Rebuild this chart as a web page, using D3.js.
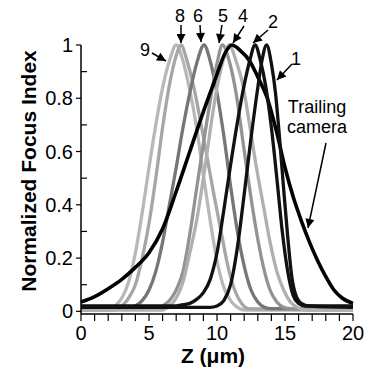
<!DOCTYPE html>
<html>
<head>
<meta charset="utf-8">
<script src="https://cdn.jsdelivr.net/npm/d3@7"></script>
<style>
  body { margin: 0; background: #fff; }
  text { font-family: Arial, "Liberation Sans", sans-serif; }
</style>
</head>
<body>
<script>
var svg_width  = 371;
var svg_height = 374;

// focus curves, [z (um), normalized focus index]
var cam9 = [[0,0.005],[2,0.005],[2.5,0.02],[3,0.05],[3.5,0.11],[4,0.22],[4.5,0.37],[5,0.54],[5.5,0.7],[6,0.84],[6.5,0.94],[7,1.0],[7.5,0.94],[8,0.83],[8.5,0.69],[9,0.51],[9.5,0.34],[10,0.19],[10.5,0.09],[11,0.04],[11.5,0.015],[12,0.005],[20,0.005]];
var cam8 = [[0,0.005],[2.5,0.005],[3,0.02],[3.5,0.05],[4,0.1],[4.5,0.2],[5,0.33],[5.5,0.5],[6,0.69],[6.5,0.85],[7,0.96],[7.35,1.0],[7.8,0.94],[8.3,0.84],[8.8,0.71],[9.3,0.57],[9.8,0.43],[10.3,0.3],[10.8,0.17],[11.3,0.08],[11.8,0.03],[12.3,0.01],[20,0.005]];
var cam6 = [[0,0.01],[3.5,0.01],[4,0.02],[4.5,0.04],[5,0.08],[5.5,0.15],[6,0.26],[6.5,0.4],[7,0.54],[7.5,0.69],[8,0.82],[8.5,0.93],[9.05,1.0],[9.5,0.94],[10,0.82],[10.5,0.66],[11,0.47],[11.5,0.3],[12,0.17],[12.5,0.08],[13,0.035],[13.5,0.015],[14,0.01],[20,0.01]];
var cam5 = [[0,0.01],[5.5,0.01],[6,0.02],[6.5,0.04],[7,0.08],[7.5,0.15],[8,0.29],[8.5,0.46],[9,0.63],[9.5,0.79],[10,0.93],[10.4,1.0],[10.9,0.94],[11.4,0.82],[11.9,0.64],[12.4,0.46],[12.9,0.3],[13.4,0.17],[13.9,0.08],[14.4,0.035],[14.9,0.015],[15.5,0.01],[20,0.01]];
var cam4 = [[0,0.005],[6,0.005],[6.5,0.02],[7,0.05],[7.5,0.11],[8,0.22],[8.5,0.34],[9,0.5],[9.5,0.68],[10,0.84],[10.5,0.95],[10.9,1.0],[11.4,0.94],[11.9,0.85],[12.4,0.7],[12.9,0.54],[13.4,0.4],[13.9,0.26],[14.4,0.15],[14.9,0.08],[15.4,0.035],[15.9,0.015],[16.5,0.005],[20,0.005]];
var trailing = [[0,0.035],[1,0.055],[2,0.085],[3,0.12],[4,0.165],[5,0.22],[6,0.31],[7,0.45],[8,0.6],[9,0.75],[10,0.89],[10.6,0.97],[11.1,1.0],[11.7,0.98],[12.4,0.94],[13,0.88],[13.7,0.8],[14.4,0.67],[15,0.54],[15.6,0.43],[16.2,0.34],[16.8,0.26],[17.4,0.19],[18,0.13],[18.6,0.08],[19.2,0.05],[20,0.03]];
var cam2 = [[0,0.02],[7,0.02],[7.5,0.025],[8,0.03],[8.5,0.045],[9,0.07],[9.5,0.12],[10,0.22],[10.5,0.38],[11,0.55],[11.5,0.71],[12,0.85],[12.4,0.94],[12.8,1.0],[13.2,0.94],[13.6,0.84],[14,0.69],[14.4,0.5],[14.8,0.3],[15.2,0.15],[15.6,0.06],[16,0.03],[16.5,0.02],[20,0.02]];
var cam1 = [[0,0.015],[9.5,0.015],[10,0.02],[10.5,0.04],[11,0.1],[11.5,0.24],[12,0.44],[12.5,0.65],[13,0.84],[13.3,0.94],[13.65,1.0],[14,0.93],[14.3,0.82],[14.6,0.65],[14.9,0.46],[15.2,0.28],[15.5,0.13],[15.8,0.06],[16.2,0.03],[16.8,0.02],[20,0.015]];

var xTicks = [0, 5, 10, 15, 20];
var yTicks = [0, 0.2, 0.4, 0.6, 0.8, 1];

var curves = [
  {data: cam9, color: "#b8b8b8", w: 3.3},
  {data: cam8, color: "#a6a6a6", w: 3.3},
  {data: cam6, color: "#767676", w: 3.3},
  {data: cam5, color: "#939393", w: 3.3},
  {data: cam4, color: "#b0b0b0", w: 3.3},
  {data: trailing, color: "#000", w: 3.6},
  {data: cam2, color: "#111", w: 3.3},
  {data: cam1, color: "#111", w: 3.3}
];

// label text, position, arrow start -> tip
var labels = [
  {t: "9", x: 145, y: 56, a: [152, 53, 166, 61]},
  {t: "8", x: 180, y: 22, a: [181, 25, 181, 43]},
  {t: "6", x: 198, y: 22, a: [200, 25, 201, 42]},
  {t: "5", x: 223, y: 22, a: [222, 25, 219, 43]},
  {t: "4", x: 243, y: 22, a: [244, 26, 233, 43]},
  {t: "2", x: 273, y: 28, a: [268, 30, 253, 43]},
  {t: "1", x: 296, y: 65, a: [292, 64, 277, 80]}
];

var svg = d3.select('body').append('svg')
            .attr('width', svg_width)
            .attr('height', svg_height);

var x = d3.scaleLinear().domain([0, 20]).range([81, 353]);
var y = d3.scaleLinear().domain([-0.01, 1]).range([314, 45]);

var line = d3.line()
             .x(d => x(d[0]))
             .y(d => y(d[1]))
             .curve(d3.curveMonotoneX);

svg.append("g")
   .selectAll("path")
   .data(curves)
   .enter().append("path")
   .attr("d", d => line(d.data))
   .attr("fill", "none")
   .attr("stroke", d => d.color)
   .attr("stroke-width", d => d.w)
   .attr("stroke-linejoin", "round");

// axes
var xAxis = svg.append("g").attr("transform", "translate(0," + y(-0.01) + ")");
xAxis.append("line").attr("x1", x(0)).attr("x2", x(20)).attr("stroke", "#000").attr("stroke-width", 1.5);
xAxis.selectAll(".mt").data(d3.range(0, 21)).enter().append("line")
     .attr("x1", d => x(d)).attr("x2", d => x(d))
     .attr("y1", 0).attr("y2", 7)
     .attr("stroke", "#000").attr("stroke-width", 1.2);
xAxis.selectAll("text").data(xTicks).enter().append("text")
     .attr("x", d => x(d)).attr("y", 26)
     .attr("text-anchor", "middle")
     .attr("font-size", 20)
     .text(d => d);

var yAxis = svg.append("g").attr("transform", "translate(" + x(0) + ",0)");
yAxis.append("line").attr("y1", y(-0.01)).attr("y2", y(1)).attr("stroke", "#000").attr("stroke-width", 1.5);
yAxis.selectAll(".mj").data(yTicks).enter().append("line")
     .attr("y1", d => y(d)).attr("y2", d => y(d))
     .attr("x1", -5).attr("x2", 0)
     .attr("stroke", "#000").attr("stroke-width", 1.2);
yAxis.selectAll(".mn").data([0.1, 0.3, 0.5, 0.7, 0.9]).enter().append("line")
     .attr("y1", d => y(d)).attr("y2", d => y(d))
     .attr("x1", 0).attr("x2", 6)
     .attr("stroke", "#000").attr("stroke-width", 1.2);
yAxis.selectAll("text").data(yTicks).enter().append("text")
     .attr("x", -8).attr("y", d => y(d) + 7)
     .attr("text-anchor", "end")
     .attr("font-size", 20)
     .text(d => d);

svg.append("text")
   .attr("x", 213).attr("y", 363)
   .attr("text-anchor", "middle")
   .attr("font-size", 21).attr("font-weight", "bold")
   .text("Z (\u03bcm)");

svg.append("text")
   .attr("transform", "translate(36,171) rotate(-90)")
   .attr("text-anchor", "middle")
   .attr("font-size", 21).attr("font-weight", "bold")
   .text("Normalized Focus Index");

// arrows
svg.append("defs").append("marker")
   .attr("id", "head")
   .attr("viewBox", "0 0 10 10")
   .attr("refX", 10).attr("refY", 5)
   .attr("markerWidth", 11).attr("markerHeight", 9)
   .attr("markerUnits", "userSpaceOnUse")
   .attr("orient", "auto")
   .append("path").attr("d", "M0,0 L10,5 L0,10 Z").attr("fill", "#000");

var ann = svg.append("g");
ann.selectAll("text").data(labels).enter().append("text")
   .attr("x", d => d.x).attr("y", d => d.y)
   .attr("text-anchor", "middle")
   .attr("font-size", 18)
   .text(d => d.t);
ann.selectAll("line").data(labels).enter().append("line")
   .attr("x1", d => d.a[0]).attr("y1", d => d.a[1])
   .attr("x2", d => d.a[2]).attr("y2", d => d.a[3])
   .attr("stroke", "#000").attr("stroke-width", 1.5)
   .attr("marker-end", "url(#head)");

ann.append("text").attr("x", 317).attr("y", 113).attr("text-anchor", "middle").attr("font-size", 18).text("Trailing");
ann.append("text").attr("x", 317).attr("y", 133).attr("text-anchor", "middle").attr("font-size", 18).text("camera");
ann.append("line")
   .attr("x1", 326).attr("y1", 143).attr("x2", 308).attr("y2", 228)
   .attr("stroke", "#000").attr("stroke-width", 1.5)
   .attr("marker-end", "url(#head)");
</script>
</body>
</html>
